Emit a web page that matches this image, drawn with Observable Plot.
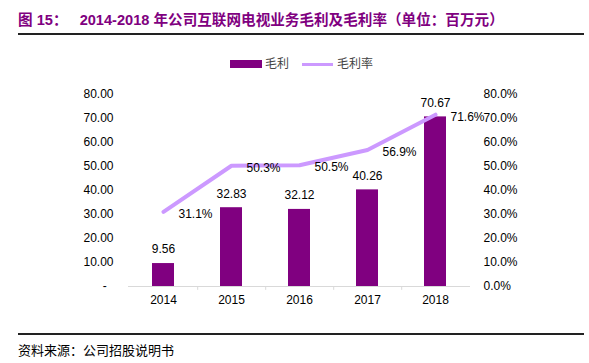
<!DOCTYPE html>
<html><head><meta charset="utf-8">
<script src="https://cdn.jsdelivr.net/npm/d3@7"></script>
<script src="https://cdn.jsdelivr.net/npm/@observablehq/plot@0.6"></script>
<style>
body{margin:0;width:589px;height:363px;position:relative;background:#fff;overflow:hidden;font-family:"Liberation Sans",Arial,"Noto Sans CJK SC",sans-serif}
#title{position:absolute;left:18px;top:8px;font-size:14.6px;font-weight:bold;color:#800080;white-space:pre;font-family:"Liberation Sans",Arial,"Noto Sans CJK SC",sans-serif}
.hr{position:absolute;left:18px;width:566px;height:1.5px;background:#222}
#legend{position:absolute;top:56px;left:0;width:589px;height:16px;font-size:12px;color:#444}
#legend span{position:absolute;top:0;line-height:16px}
#chart{position:absolute;left:0;top:80px}
#caption{position:absolute;left:18px;top:340px;font-size:13px;color:#000;font-family:"Noto Sans CJK SC",serif}
</style></head>
<body>
<div id="title">图 15：   2014-2018 年公司互联网电视业务毛利及毛利率（单位：百万元）</div>
<div class="hr" style="top:33px"></div>
<div id="legend">
  <div style="position:absolute;left:230px;top:4px;width:32px;height:8px;background:#800080"></div>
  <span style="left:265px">毛利</span>
  <div style="position:absolute;left:302px;top:7px;width:31px;height:3px;background:#CC99FF"></div>
  <span style="left:337px">毛利率</span>
</div>
<div id="chart"></div>
<div class="hr" style="top:333px"></div>
<div id="caption">资料来源：公司招股说明书</div>
<script>
const years = ["2014","2015","2016","2017","2018"];
const profit = [9.56, 32.83, 32.12, 40.26, 70.67];
const marginPct = [31.1, 50.3, 50.5, 56.9, 71.6];
const leftTicks = [0,10,20,30,40,50,60,70,80];
const rightTicks = [0,10,20,30,40,50,60,70,80];

const data = years.map((y,i)=>({year:y, profit:profit[i], margin:marginPct[i]}));

const chart = Plot.plot({
  width:589, height:240,
  marginTop:14, marginBottom:34, marginLeft:128, marginRight:119,
  x:{domain:years, paddingInner:0.68, paddingOuter:0.34, label:null},
  y:{domain:[0,80], label:null},
  style:{fontFamily:"'Liberation Sans', Arial, sans-serif", fontSize:"12px", color:"#000", background:"transparent"},
  marks:[
    Plot.barY(data,{x:"year", y:"profit", fill:"#800080"}),
    Plot.ruleY([0],{stroke:"#d9d9d9", strokeWidth:1}),
    Plot.ruleX(years.slice(0,4),{x:d=>d, y1:0, y2:-1.6, dx:34.2, stroke:"#d9d9d9"}),
    Plot.axisX({tickSize:0, tickPadding:9, fontSize:12, label:null}),
    Plot.axisY({anchor:"left", ticks:leftTicks, tickSize:0, tickPadding:15, label:null,
      tickFormat:d=> d===0 ? "-\u00a0\u00a0" : d.toFixed(2)}),
    Plot.axisY({anchor:"right", ticks:rightTicks, tickSize:0, tickPadding:13, label:null,
      tickFormat:d=> d.toFixed(1)+"%"}),
    Plot.line(data,{x:"year", y:"margin", stroke:"#CC99FF", strokeWidth:4}),
    Plot.text(data,{x:"year", y:"profit", text:d=>d.profit.toFixed(2), dy:-14, fontSize:12}),
    Plot.text(data,{x:"year", y:"margin", text:d=>d.margin.toFixed(1)+"%", textAnchor:"start", dx:15, dy:2, fontSize:12})
  ]
});
document.getElementById("chart").appendChild(chart);
</script>
</body></html>
